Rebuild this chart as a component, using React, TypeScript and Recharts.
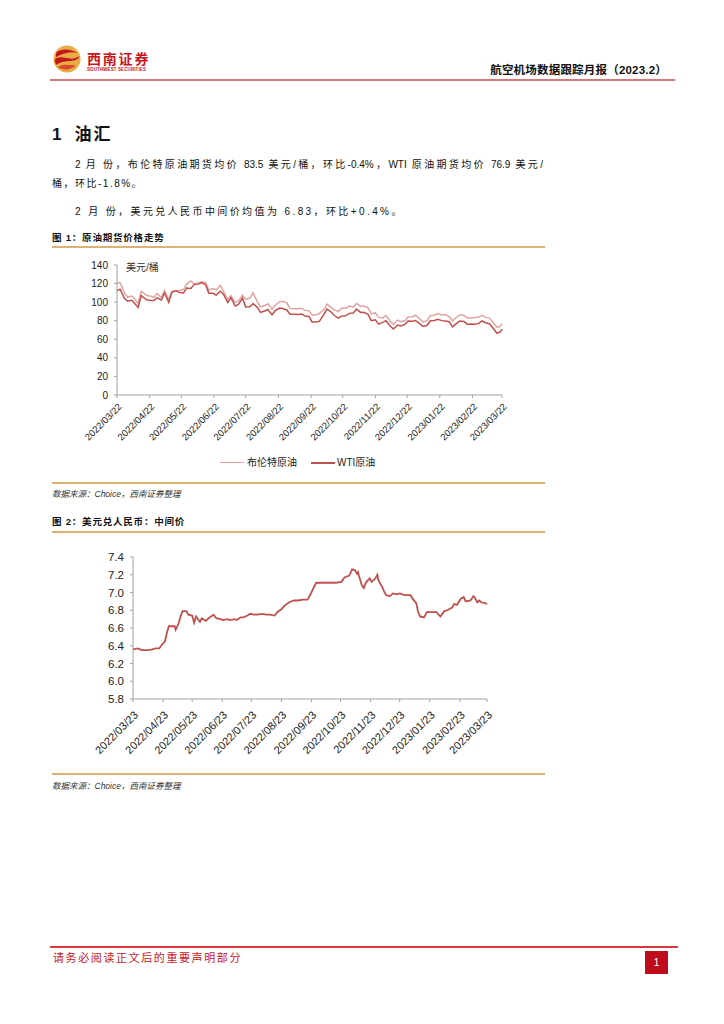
import { LineChart, Line, XAxis, YAxis } from "recharts";

// 图1 原油期货价格 (美元/桶)
const OIL_DATES = [
  "2022/03/22", "2022/03/25", "2022/03/29", "2022/04/01", "2022/04/05", "2022/04/08", "2022/04/11",
  "2022/04/14", "2022/04/19", "2022/04/22", "2022/04/26", "2022/04/29", "2022/05/03", "2022/05/06",
  "2022/05/10", "2022/05/13", "2022/05/17", "2022/05/20", "2022/05/24", "2022/05/27", "2022/05/31",
  "2022/06/03", "2022/06/07", "2022/06/10", "2022/06/14", "2022/06/17", "2022/06/21", "2022/06/24",
  "2022/06/28", "2022/07/01", "2022/07/05", "2022/07/08", "2022/07/12", "2022/07/15", "2022/07/19",
  "2022/07/22", "2022/07/26", "2022/07/29", "2022/08/02", "2022/08/05", "2022/08/09", "2022/08/12",
  "2022/08/16", "2022/08/19", "2022/08/23", "2022/08/26", "2022/08/30", "2022/09/02", "2022/09/06",
  "2022/09/09", "2022/09/13", "2022/09/16", "2022/09/20", "2022/09/23", "2022/09/27", "2022/09/30",
  "2022/10/04", "2022/10/07", "2022/10/11", "2022/10/14", "2022/10/18", "2022/10/21", "2022/10/25",
  "2022/10/28", "2022/11/01", "2022/11/04", "2022/11/08", "2022/11/11", "2022/11/15", "2022/11/18",
  "2022/11/22", "2022/11/25", "2022/11/29", "2022/12/02", "2022/12/06", "2022/12/09", "2022/12/13",
  "2022/12/16", "2022/12/20", "2022/12/23", "2022/12/27", "2022/12/30", "2023/01/03", "2023/01/06",
  "2023/01/10", "2023/01/13", "2023/01/17", "2023/01/20", "2023/01/24", "2023/01/27", "2023/01/31",
  "2023/02/03", "2023/02/07", "2023/02/10", "2023/02/14", "2023/02/17", "2023/02/21", "2023/02/24",
  "2023/02/28", "2023/03/03", "2023/03/07", "2023/03/10", "2023/03/14", "2023/03/17", "2023/03/20",
  "2023/03/22",
];
const BRENT = [
  121.0, 120.7, 110.2, 105.5, 106.6, 102.8, 98.5,
  111.7, 107.3, 106.7, 105.0, 109.3, 105.0, 112.4,
  102.5, 111.6, 111.9, 112.6, 113.6, 119.4, 122.8,
  119.7, 120.6, 122.0, 121.2, 113.1, 114.7, 113.1,
  118.0, 111.6, 102.8, 107.0, 99.5, 101.2, 107.4,
  103.2, 104.4, 110.0, 100.5, 94.9, 96.3, 98.2,
  92.3, 96.7, 100.2, 101.0, 99.3, 93.0, 92.8,
  92.8, 93.2, 91.4, 90.6, 86.2, 86.3, 88.0,
  91.8, 97.9, 94.3, 91.6, 90.0, 93.5, 93.5,
  95.8, 94.7, 98.6, 95.4, 96.0, 93.9, 87.6,
  88.4, 83.6, 83.0, 85.6, 79.4, 76.1, 80.7,
  79.0, 80.0, 83.9, 84.3, 85.9, 82.1, 78.6,
  80.1, 85.3, 85.9, 87.6, 86.1, 86.7, 84.5,
  79.9, 83.7, 86.4, 85.6, 83.0, 83.1, 83.2,
  83.9, 85.8, 83.3, 82.8, 77.5, 73.0, 73.8,
  76.7,
];
const WTI = [
  112.5, 113.9, 104.2, 101.0, 102.0, 98.3, 94.3,
  107.0, 102.6, 102.1, 101.7, 104.7, 102.4, 109.8,
  99.8, 110.5, 112.4, 110.3, 109.8, 115.1, 114.7,
  118.9, 119.4, 120.7, 118.9, 109.6, 109.5, 107.6,
  111.8, 108.4, 99.5, 104.8, 95.8, 97.6, 104.2,
  94.7, 95.0, 98.6, 94.4, 89.0, 90.5, 92.1,
  86.5, 90.8, 93.7, 93.1, 91.6, 86.9, 86.9,
  86.8, 87.3, 85.1, 84.5, 78.7, 78.5, 79.5,
  86.5, 92.6, 89.4, 85.6, 82.8, 85.1, 85.3,
  87.9, 88.4, 92.6, 88.9, 89.0, 86.9, 80.1,
  81.0, 76.3, 78.2, 80.0, 74.3, 71.0, 75.4,
  74.3, 76.1, 79.6, 79.5, 80.3, 76.9, 73.8,
  75.1, 79.9, 80.2, 81.6, 80.1, 79.7, 78.9,
  73.4, 77.1, 79.7, 79.1, 76.3, 76.4, 76.3,
  77.1, 79.7, 77.6, 76.7, 71.3, 66.7, 67.6,
  70.9,
];
const OIL_TICKS = [
  "2022/03/22", "2022/04/22", "2022/05/22", "2022/06/22", "2022/07/22", "2022/08/22", "2022/09/22",
  "2022/10/22", "2022/11/22", "2022/12/22", "2023/01/22", "2023/02/22", "2023/03/22",
];
const OIL_Y_TICKS = [0, 20, 40, 60, 80, 100, 120, 140];

// 图2 美元兑人民币中间价
const FX_DATES = [
  "2022/03/23", "2022/03/28", "2022/04/01", "2022/04/07", "2022/04/12", "2022/04/15", "2022/04/19",
  "2022/04/21", "2022/04/25", "2022/04/27", "2022/04/29", "2022/05/05", "2022/05/06", "2022/05/09",
  "2022/05/11", "2022/05/13", "2022/05/17", "2022/05/19", "2022/05/23", "2022/05/25", "2022/05/27",
  "2022/05/31", "2022/06/02", "2022/06/06", "2022/06/09", "2022/06/14", "2022/06/17", "2022/06/21",
  "2022/06/24", "2022/06/28", "2022/07/01", "2022/07/06", "2022/07/08", "2022/07/12", "2022/07/15",
  "2022/07/19", "2022/07/22", "2022/07/26", "2022/07/29", "2022/08/03", "2022/08/08", "2022/08/11",
  "2022/08/16", "2022/08/19", "2022/08/23", "2022/08/26", "2022/08/31", "2022/09/05", "2022/09/09",
  "2022/09/14", "2022/09/19", "2022/09/22", "2022/09/26", "2022/09/28", "2022/10/11", "2022/10/18",
  "2022/10/24", "2022/10/27", "2022/11/01", "2022/11/04", "2022/11/07", "2022/11/09", "2022/11/10",
  "2022/11/11", "2022/11/14", "2022/11/16", "2022/11/18", "2022/11/22", "2022/11/24", "2022/11/28",
  "2022/11/30", "2022/12/01", "2022/12/05", "2022/12/07", "2022/12/09", "2022/12/13", "2022/12/16",
  "2022/12/20", "2022/12/23", "2022/12/28", "2023/01/03", "2023/01/06", "2023/01/09", "2023/01/11",
  "2023/01/13", "2023/01/17", "2023/01/20", "2023/01/30", "2023/02/01", "2023/02/03", "2023/02/07",
  "2023/02/10", "2023/02/15", "2023/02/17", "2023/02/20", "2023/02/24", "2023/02/27", "2023/03/01",
  "2023/03/06", "2023/03/09", "2023/03/10", "2023/03/13", "2023/03/15", "2023/03/17", "2023/03/21",
  "2023/03/23",
];
const USDCNY = [
  6.36, 6.37, 6.35, 6.35, 6.36, 6.37, 6.37,
  6.40, 6.45, 6.55, 6.62, 6.62, 6.58, 6.65,
  6.73, 6.79, 6.79, 6.75, 6.74, 6.66, 6.73,
  6.67, 6.71, 6.68, 6.71, 6.75, 6.71, 6.70,
  6.69, 6.70, 6.69, 6.70, 6.69, 6.72, 6.72,
  6.74, 6.76, 6.75, 6.75, 6.76, 6.75, 6.75,
  6.74, 6.78, 6.81, 6.85, 6.89, 6.91, 6.91,
  6.92, 6.92, 6.98, 7.07, 7.11, 7.11, 7.11,
  7.12, 7.17, 7.19, 7.26, 7.25, 7.21, 7.23,
  7.19, 7.08, 7.05, 7.11, 7.16, 7.12, 7.16,
  7.20, 7.14, 7.06, 7.01, 6.97, 6.96, 6.99,
  6.98, 6.99, 6.97, 6.97, 6.92, 6.88, 6.78,
  6.73, 6.72, 6.78, 6.78, 6.75, 6.73, 6.79,
  6.80, 6.83, 6.87, 6.86, 6.93, 6.95, 6.90,
  6.91, 6.96, 6.95, 6.89, 6.91, 6.89, 6.88,
  6.87,
];
const FX_TICKS = [
  "2022/03/23", "2022/04/23", "2022/05/23", "2022/06/23", "2022/07/23", "2022/08/23", "2022/09/23",
  "2022/10/23", "2022/11/23", "2022/12/23", "2023/01/23", "2023/02/23", "2023/03/23",
];
const FX_Y_TICKS = [5.8, 6.0, 6.2, 6.4, 6.6, 6.8, 7.0, 7.2, 7.4];

const toT = (s: string) => {
  const [y, m, d] = s.split("/").map(Number);
  return Date.UTC(y, m - 1, d);
};
const pad = (n: number) => (n < 10 ? "0" + n : "" + n);
const fmt = (t: number) => {
  const d = new Date(t);
  return `${d.getUTCFullYear()}/${pad(d.getUTCMonth() + 1)}/${pad(d.getUTCDate())}`;
};

const oilData = OIL_DATES.map((d, i) => ({ t: toT(d), brent: BRENT[i], wti: WTI[i] }));
const fxData = FX_DATES.map((d, i) => ({ t: toT(d), v: USDCNY[i] }));

const LATIN = '"Liberation Sans", Arial, "Noto Sans CJK SC", sans-serif';
const CJK = '"Liberation Sans", "Noto Sans CJK SC", sans-serif';
const RED = "#c0504d";
const PINK = "#e0a4a2";
const AXIS = "#a0a0a0";
const TAN = "#dcb176";

function DateTick({ x, y, payload, size, dy }: any) {
  return (
    <g transform={`translate(${x + 3},${y + dy})`}>
      <text
        textAnchor="end"
        transform="rotate(-45)"
        dy="0.35em"
        fontSize={size}
        fill="#222"
        fontFamily={LATIN}
      >
        {fmt(payload.value)}
      </text>
    </g>
  );
}

function abs(left: number, top: number, extra: any = {}) {
  return { position: "absolute" as const, left, top, ...extra };
}

function Logo() {
  return (
    <>
      <svg width="30" height="30" viewBox="0 0 30 30" style={abs(52, 44)}>
        <circle cx="15" cy="15" r="13.5" fill="#e8ae45" />
        <path d="M4 9 C 9 4, 20 5, 25 9 C 18 7, 10 10, 4 13 Z" fill="#c8161d" />
        <path d="M2.5 16 C 9 9, 19 19, 27.5 12 C 25 20, 14 14, 4 21 Z" fill="#c8161d" />
        <path d="M6 23 C 12 19, 19 22, 24 21 C 20 26, 11 27, 6 23 Z" fill="#d9492a" />
      </svg>
      <div style={abs(87, 50, { fontFamily: '"Noto Sans CJK SC"', fontWeight: 700, fontSize: 14, letterSpacing: 1.8, color: "#c8161d", lineHeight: "16px" })}>
        西南证券
      </div>
      <div style={abs(87, 67, { fontFamily: LATIN, fontWeight: 700, fontSize: 4.5, color: "#c8161d", lineHeight: "5px", letterSpacing: 0.1 })}>
        SOUTHWEST SECURITIES
      </div>
    </>
  );
}

export default function App() {
  return (
    <div style={{ position: "absolute", left: 0, top: 0, width: 724, height: 1024, background: "#fff", overflow: "hidden", fontFamily: CJK, color: "#111" }}>
      <Logo />
      <div style={{ position: "absolute", right: 57, top: 63, fontSize: 11.5, fontWeight: 700, letterSpacing: 0.2, lineHeight: "15px", fontFamily: CJK }}>
        航空机场数据跟踪月报（2023.2）
      </div>
      <div style={abs(50, 79, { width: 625, height: 1.5, background: "#d9777d" })} />

      <div style={abs(52, 124, { fontSize: 17, fontWeight: 700, lineHeight: "22px" })}>
        1<span style={{ marginLeft: 13, letterSpacing: 2 }}>油汇</span>
      </div>

      <div style={abs(75, 158, { width: 468, fontSize: 10, lineHeight: "14px", textAlign: "justify", textAlignLast: "justify", whiteSpace: "nowrap" as const })}>
        2 月 份，布伦特原油期货均价 83.5 美元/桶，环比-0.4%，WTI 原油期货均价 76.9 美元/
      </div>
      <div style={abs(52, 177, { fontSize: 10, lineHeight: "14px", letterSpacing: 1.5 })}>
        桶，环比-1.8%。
      </div>
      <div style={abs(75, 205, { fontSize: 10, lineHeight: "14px", letterSpacing: 2.4 })}>
        2 月 份，美元兑人民币中间价均值为 6.83，环比+0.4%。
      </div>

      <div style={abs(52, 231, { fontSize: 9.5, fontWeight: 700, lineHeight: "13px", letterSpacing: 0.8 })}>
        图 1：原油期货价格走势
      </div>
      <div style={abs(52, 246, { width: 493, height: 1.5, background: TAN })} />

      <div style={abs(60, 250)}>
        <LineChart width={470} height={210} data={oilData} margin={{ top: 15, right: 28, left: 0, bottom: 0 }}>
          <XAxis
            dataKey="t"
            type="number"
            scale="time"
            domain={[toT(OIL_TICKS[0]), toT(OIL_TICKS[OIL_TICKS.length - 1])]}
            ticks={OIL_TICKS.map(toT)}
            interval={0}
            height={65}
            stroke={AXIS}
            tickSize={3}
            tick={<DateTick size={9.5} dy={5} />}
          />
          <YAxis
            domain={[0, 140]}
            ticks={OIL_Y_TICKS}
            interval={0}
            width={57}
            stroke={AXIS}
            tickSize={3}
            tickMargin={6}
            tick={{ fontSize: 10, fill: "#222", fontFamily: LATIN }}
          />
          <Line dataKey="brent" stroke={PINK} strokeWidth={1.5} dot={false} isAnimationActive={false} />
          <Line dataKey="wti" stroke={RED} strokeWidth={1.5} dot={false} isAnimationActive={false} />
        </LineChart>
      </div>
      <div style={abs(126, 262, { fontSize: 10, lineHeight: "12px", color: "#333" })}>美元/桶</div>

      <div style={abs(220, 456, { display: "flex", alignItems: "center", fontSize: 10, lineHeight: "13px", color: "#222" })}>
        <span style={{ display: "inline-block", width: 24, height: 1.5, background: PINK, marginRight: 3 }} />
        <span>布伦特原油</span>
        <span style={{ display: "inline-block", width: 24, height: 2, background: RED, marginLeft: 14, marginRight: 2 }} />
        <span>WTI原油</span>
      </div>

      <div style={abs(52, 482, { width: 493, height: 1.5, background: TAN })} />
      <div style={abs(52, 488, { fontSize: 8.5, fontStyle: "italic", lineHeight: "12px", color: "#333" })}>
        数据来源：Choice，西南证券整理
      </div>

      <div style={abs(52, 515, { fontSize: 9.5, fontWeight: 700, lineHeight: "13px", letterSpacing: 0.8 })}>
        图 2：美元兑人民币：中间价
      </div>
      <div style={abs(52, 531, { width: 493, height: 1.5, background: TAN })} />

      <div style={abs(60, 540)}>
        <LineChart width={450} height={230} data={fxData} margin={{ top: 17, right: 23, left: 0, bottom: 0 }}>
          <XAxis
            dataKey="t"
            type="number"
            scale="time"
            domain={[toT(FX_TICKS[0]), toT(FX_TICKS[FX_TICKS.length - 1])]}
            ticks={FX_TICKS.map(toT)}
            interval={0}
            height={71}
            stroke={AXIS}
            tickSize={3}
            tick={<DateTick size={11} dy={9} />}
          />
          <YAxis
            domain={[5.8, 7.4]}
            ticks={FX_Y_TICKS}
            interval={0}
            width={73}
            stroke={AXIS}
            tickSize={3}
            tickMargin={6}
            tickFormatter={(v: number) => v.toFixed(1)}
            tick={{ fontSize: 11.5, fill: "#222", fontFamily: LATIN }}
          />
          <Line dataKey="v" stroke={RED} strokeWidth={1.8} dot={false} isAnimationActive={false} />
        </LineChart>
      </div>

      <div style={abs(52, 773, { width: 493, height: 1.5, background: TAN })} />
      <div style={abs(52, 780, { fontSize: 8.5, fontStyle: "italic", lineHeight: "12px", color: "#333" })}>
        数据来源：Choice，西南证券整理
      </div>

      <div style={abs(50, 946, { width: 628, height: 1.5, background: "#d9363e" })} />
      <div style={abs(53, 951, { fontSize: 11, lineHeight: "15px", letterSpacing: 1.6, color: "#c8161d" })}>
        请务必阅读正文后的重要声明部分
      </div>
      <div style={abs(645, 951, { width: 23, height: 23, background: "#c00d1e", color: "#fff", fontSize: 10, lineHeight: "23px", textAlign: "center", fontFamily: LATIN })}>
        1
      </div>
    </div>
  );
}
